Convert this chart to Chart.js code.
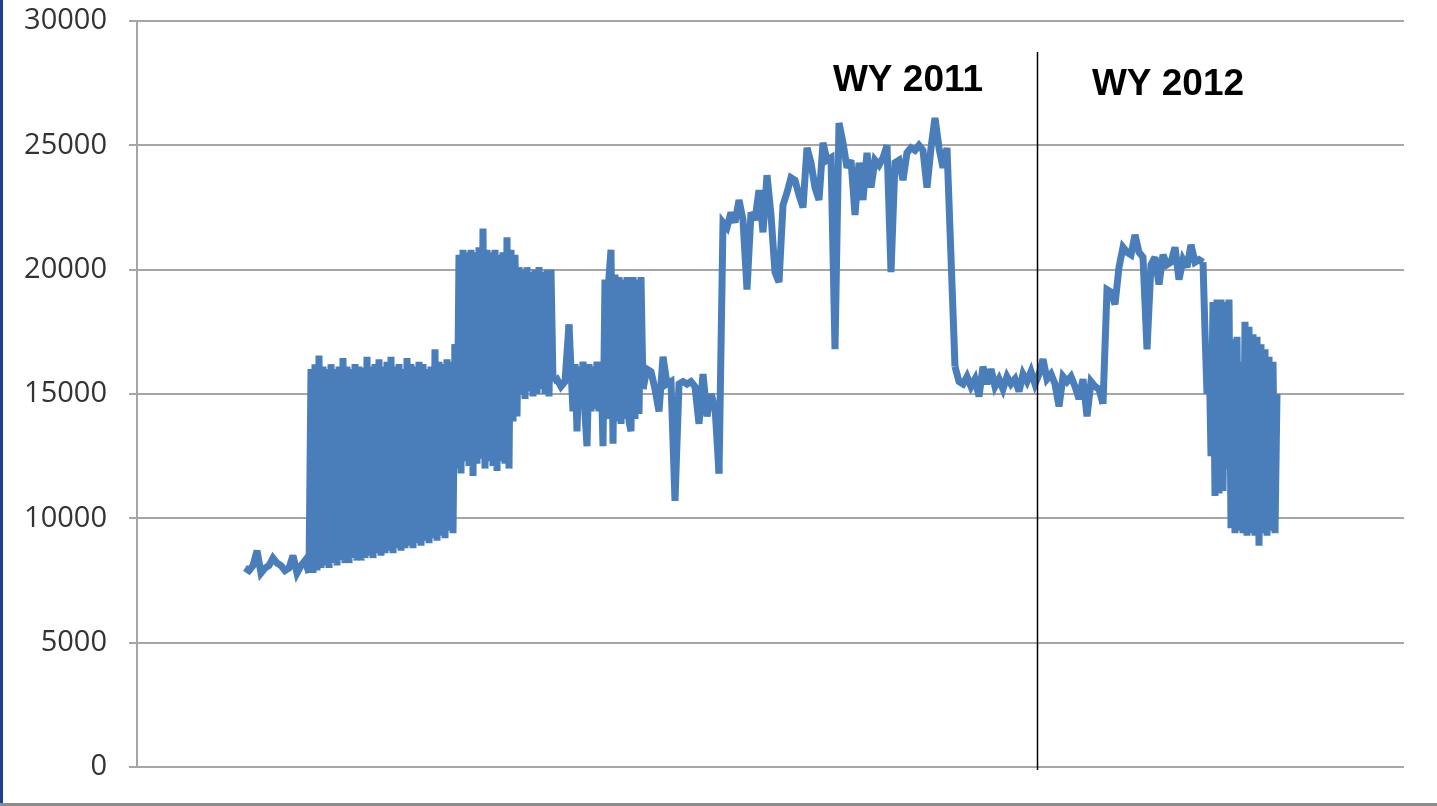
<!DOCTYPE html>
<html>
<head>
<meta charset="UTF-8">
<title>Flow record WY 2011 - WY 2012</title>
<script src="https://cdn.jsdelivr.net/npm/chart.js"></script>
<style>
html, body { margin: 0; padding: 0; background: #fff; }
.frame { position: relative; width: 1437px; height: 806px; overflow: hidden; }
.edge-left { position: absolute; left: 0; top: 0; width: 3px; height: 806px; background: #1f3d9a; }
.edge-bottom { position: absolute; left: 0; bottom: 0; width: 1437px; height: 3px; background: #8c8c8c; }
</style>
</head>
<body>
<div class="frame">
  <canvas id="flowChart"></canvas>
  <div class="edge-left"></div>
  <div class="edge-bottom"></div>
</div>
<script>
// Values read off the picture, left to right. Quiet stretches are sampled every 2 days,
// the stretches that swing up and down every day are sampled daily.
const lowStart = [8000, 7900, 8100, 8700, 7800, 8000, 8100, 8400, 8200, 8100, 7900, 8000, 8500, 7800, 8100, 8300, 7800];
const cyclingA = [16000, 7800, 16200, 7900, 16550, 8000, 16100, 8100, 16000, 8000, 16200, 8200, 16000, 8100, 16100, 8300,
                  16450, 8200, 16100, 8200, 16000, 8400, 16200, 8300, 16100, 8300, 16050, 8400, 16500, 8500, 16100, 8400,
                  16200, 8600, 16400, 8500, 16100, 8600, 16300, 8700, 16500, 8600, 16100, 8800, 16200, 8700, 16000, 8800,
                  16450, 8900, 16200, 8800, 16100, 9000, 16300, 8900, 16200, 9100, 16000, 9000, 16100, 9200, 16800, 9100,
                  16300, 9300, 16200, 9200, 16400, 9500, 16300, 9400, 17000];
const cyclingB = [12000, 20600, 11800, 20800, 12300, 20700, 12100, 20800, 11700, 20700, 12200, 20900, 12400, 21650, 12000, 20800,
                  12300, 20700, 12100, 20800, 11900, 20600, 12300, 20700, 12200, 21300, 12000, 20800, 13900, 20600, 14100, 20100,
                  15000, 20000, 14800, 20100, 15100, 19900, 14900, 20000, 15000, 20100, 15200, 19900, 15000, 20000, 14900, 20000, 15500];
const midA     = [15600, 15300, 15500, 17800];
const midB     = [16000, 14300, 16200, 13500, 16100, 14400, 16300, 14200, 12900, 16200, 14300, 16100, 14400, 16300, 14300, 16200,
                  12900, 19600, 14000, 19700, 20800, 13000, 19800, 13900, 19700, 13800, 19600, 14000, 19700, 13900, 13500, 19700,
                  14000, 19600, 14200, 19700, 15200];
const midC     = [16000, 15900, 15200, 14300, 16500, 15400, 15500, 10700, 15400, 15500, 15400, 15500, 15300, 13800, 15800, 14100,
                  15000, 14500, 11800];
const highFlow = [21900, 21700, 22300, 21900, 22800, 22000, 19200, 22300, 22000, 23200, 21500, 23800, 22200, 19900, 19500, 22600,
                  23100, 23700, 23600, 23000, 22500, 24900, 24300, 23300, 22800, 25100, 24400, 24500, 16800, 25900, 25100, 24100,
                  24400, 22200, 24300, 22800, 24700, 23300, 24400, 24200, 24500, 25000, 19900, 24300, 24400, 23600, 24700, 24900,
                  24800, 25000, 24800, 23300, 24900, 26100, 24900, 24100, 24900, 20500, 16100];
const baseFlow = [15500, 15400, 15700, 15300, 15600, 14900, 16100, 15400, 16000, 15300, 15600, 15200, 15700, 15400, 15600, 15100,
                  15800, 15500, 15900, 15400, 15800, 16400, 15600, 15800, 15400, 14500, 15700, 15500, 15700, 15300, 14800, 15600,
                  14100, 15500, 15300, 15200, 14600];
const wy2012High = [19200, 19100, 18600, 20100, 20900, 20700, 20600, 21400, 20700, 20500, 16800, 20200, 20500, 19400, 20600, 20200,
                    20300, 20900, 19600, 20400, 20100, 21000, 20300, 20400, 20300];
const cyclingC = [17500, 15000, 17000, 12500, 18700, 10900, 18800, 11000, 18800, 11100, 18700, 12000, 18800, 9600, 17200, 9400,
                  17300, 9500, 16300, 9400, 17900, 9300, 17700, 9400, 17400, 9300, 17300, 8900, 17000, 9400, 16800, 9300,
                  16500, 9500, 16300, 9400, 15000];

// sampling interval of each stretch, in days
const stretches    = [lowStart, cyclingA, cyclingB, midA, midB, midC, highFlow, baseFlow, wy2012High, cyclingC];
const stretchStep  = [2, 1, 1, 2, 1, 2, 2, 2, 2, 1];

const yTicks       = [0, 5000, 10000, 15000, 20000, 25000, 30000];
const periodLabels = ['WY 2011', 'WY 2012'];

// Layout of the drawing (day units on x, flow units on y)
const X_MIN        = -54;
const X_MAX        = 579.5;
const BOUNDARY_AT  = 396;
const BOUNDARY_TOP = 28750;
const LABEL_X      = [331.5, 461.5];
const LABEL_Y      = [27600, 27450];

// one line per stretch; each one starts on the last reading of the stretch before it so the trace stays joined
const datasets = [];
let day = null;
let last = null;
stretches.forEach((vals, s) => {
    const pts = last ? [last] : [];
    vals.forEach((v) => {
        day = day === null ? 0 : day + stretchStep[s];
        pts.push({x: day, y: v});
    });
    last = pts[pts.length - 1];
    datasets.push({
        data: pts,
        borderColor: '#4a7ebb',
        borderWidth: 7,
        pointRadius: 0,
        tension: 0,
        fill: false
    });
});

const waterYearPlugin = {
    id: 'waterYear',
    beforeDatasetsDraw(chart) {
        // keep the miter corners of the noisy line short
        chart.ctx.save();
        chart.ctx.miterLimit = 3;
    },
    afterDatasetsDraw(chart) {
        const {ctx, scales: {x, y}} = chart;
        ctx.restore();
        ctx.save();
        const bx = Math.round(x.getPixelForValue(BOUNDARY_AT)) + 0.5;
        ctx.strokeStyle = '#000';
        ctx.lineWidth   = 1.5;
        ctx.beginPath();
        ctx.moveTo(bx, y.getPixelForValue(BOUNDARY_TOP));
        ctx.lineTo(bx, y.getPixelForValue(0) + 3);
        ctx.stroke();

        ctx.fillStyle    = '#000';
        ctx.font         = 'bold 37px "Liberation Sans", Arial, sans-serif';
        ctx.textAlign    = 'center';
        ctx.textBaseline = 'middle';
        periodLabels.forEach((label, i) => {
            ctx.fillText(label, x.getPixelForValue(LABEL_X[i]), y.getPixelForValue(LABEL_Y[i]));
        });
        ctx.restore();
    }
};

new Chart(document.getElementById('flowChart'), {
    type: 'line',
    data: {datasets},
    options: {
        responsive: true,
        maintainAspectRatio: false,
        animation: false,
        layout: {padding: {left: 0, right: 33, top: 21, bottom: 39}},
        plugins: {legend: {display: false}, tooltip: {enabled: false}},
        scales: {
            x: {
                type: 'linear',
                min: X_MIN,
                max: X_MAX,
                display: false
            },
            y: {
                min: 0,
                max: 30000,
                afterFit: (scale) => {
                    scale.width         = 137;
                    scale.paddingTop    = 0;
                    scale.paddingBottom = 0;
                },
                afterBuildTicks: (scale) => { scale.ticks = yTicks.map((v) => ({value: v})); },
                border: {display: true, color: '#a6a6a6', width: 2},
                grid: {color: '#a6a6a6', lineWidth: 2, tickLength: 8, tickColor: '#a6a6a6'},
                ticks: {
                    padding: 22,
                    color: '#333',
                    font: {family: '"Open Sans", sans-serif', size: 29},
                    callback: (v) => String(v)
                }
            }
        }
    },
    plugins: [waterYearPlugin]
});
</script>
</body>
</html>
